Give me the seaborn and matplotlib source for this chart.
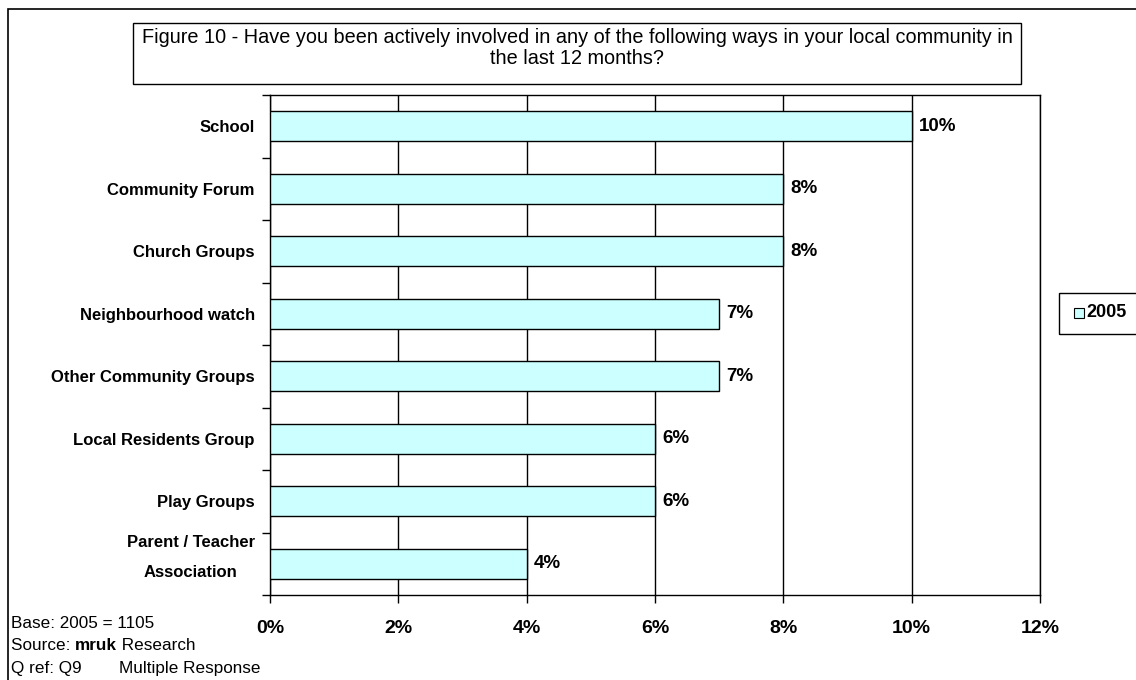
import numpy as np
import pandas as pd
import matplotlib
matplotlib.use("Agg")
import matplotlib.pyplot as plt
from matplotlib.patches import Rectangle
from matplotlib.ticker import FixedLocator, MultipleLocator
from matplotlib.transforms import ScaledTranslation
import seaborn as sns

categories = ["School", "Community Forum", "Church Groups", "Neighbourhood watch",
              "Other Community Groups", "Local Residents Group", "Play Groups",
              "Parent / Teacher\nAssociation"]
values_2005 = [10, 8, 8, 7, 7, 6, 6, 4]
series_name = "2005"
title = ("Figure 10 - Have you been actively involved in any of the following ways in your local community in\n"
         "the last 12 months?")

sns.set_style("white")
plt.rcParams["font.family"] = ["Liberation Sans", "DejaVu Sans"]
for key in ["text.color", "axes.labelcolor", "xtick.color", "ytick.color"]:
    plt.rcParams[key] = "black"

df = pd.DataFrame({"category": categories, "value": values_2005})

W, H = 1136, 680
fig = plt.figure(figsize=(W / 100, H / 100), dpi=100)
ax = fig.add_axes([270 / W, 1 - 595 / H, (1040 - 270) / W, (595 - 95) / H])

sns.barplot(data=df, x="value", y="category", orient="h", color="#CCFFFF",
            edgecolor="black", linewidth=1, width=0.48, saturation=1, ax=ax, zorder=3)

ax.set_xlim(0, 12)
ax.set_ylim(7.5, -0.5)
ax.xaxis.set_major_locator(MultipleLocator(2))
ax.set_xticklabels([f"{int(t)}%" for t in ax.get_xticks()], fontweight="bold", fontsize=14)
ax.grid(axis="x", color="black", linewidth=1, zorder=0)
ax.set_axisbelow(True)
ax.set_xlabel("")
ax.set_ylabel("")

ax.tick_params(axis="y", which="major", length=0, pad=11, labelsize=12)
for lbl in ax.get_yticklabels():
    lbl.set_fontweight("bold")
    lbl.set_horizontalalignment("right")
    lbl.set_multialignment("center")
    if "\n" in lbl.get_text():
        lbl.set_linespacing(2.25)
        lbl.set_transform(lbl.get_transform() + ScaledTranslation(0, 15 / 100, fig.dpi_scale_trans))
ax.yaxis.set_minor_locator(FixedLocator(np.arange(-0.5, 8, 1)))
ax.tick_params(axis="y", which="minor", length=6, width=1, direction="out", left=True)
ax.tick_params(axis="x", which="major", length=6, width=1, direction="out", bottom=True, pad=12)

for s in ax.spines.values():
    s.set_visible(True)
    s.set_color("black")
    s.set_linewidth(1)

for cont in ax.containers:
    ax.bar_label(cont, labels=[f"{v}%" for v in values_2005], padding=5,
                 fontweight="bold", fontsize=13.5)

# outer chart-area border
fig.patches.append(Rectangle((8 / W, -0.01), 1.1, 1 - 9 / H + 0.01,
                             transform=fig.transFigure, fill=False,
                             edgecolor="black", linewidth=1.2))

# title box
fig.patches.append(Rectangle((133 / W, 1 - 84 / H), (1021 - 133) / W, 61 / H,
                             transform=fig.transFigure, fill=False,
                             edgecolor="black", linewidth=1))
fig.text(577 / W, 1 - 48 / H, title, ha="center", va="center",
         fontsize=14.3, linespacing=1.15)

# legend box
fig.patches.append(Rectangle((1059 / W, 1 - 334 / H), 0.2, 41 / H,
                             transform=fig.transFigure, fill=False,
                             edgecolor="black", linewidth=1))
fig.patches.append(Rectangle((1074 / W, 1 - 318 / H), 10 / W, 10 / H,
                             transform=fig.transFigure, facecolor="#CCFFFF",
                             edgecolor="black", linewidth=0.8))
fig.text(1086 / W, 1 - 313 / H, series_name, ha="left", va="center",
         fontsize=13, fontweight="bold")

# footnotes, placed piece by piece
renderer = fig.canvas.get_renderer()


def place_run(x_px, y_px, parts):
    for txt, weight in parts:
        t = fig.text(x_px / W, 1 - y_px / H, txt, ha="left", va="center",
                     fontsize=12.3, fontweight=weight)
        x_px += t.get_window_extent(renderer).width


place_run(11, 624, [("Base: 2005 = 1105", "normal")])
place_run(11, 646, [("Source: ", "normal"), ("mruk", "bold"), (" Research", "normal")])
place_run(11, 668, [("Q ref: Q9", "normal")])
place_run(119, 668, [("Multiple Response", "normal")])

fig.savefig("out.png", dpi=100)
